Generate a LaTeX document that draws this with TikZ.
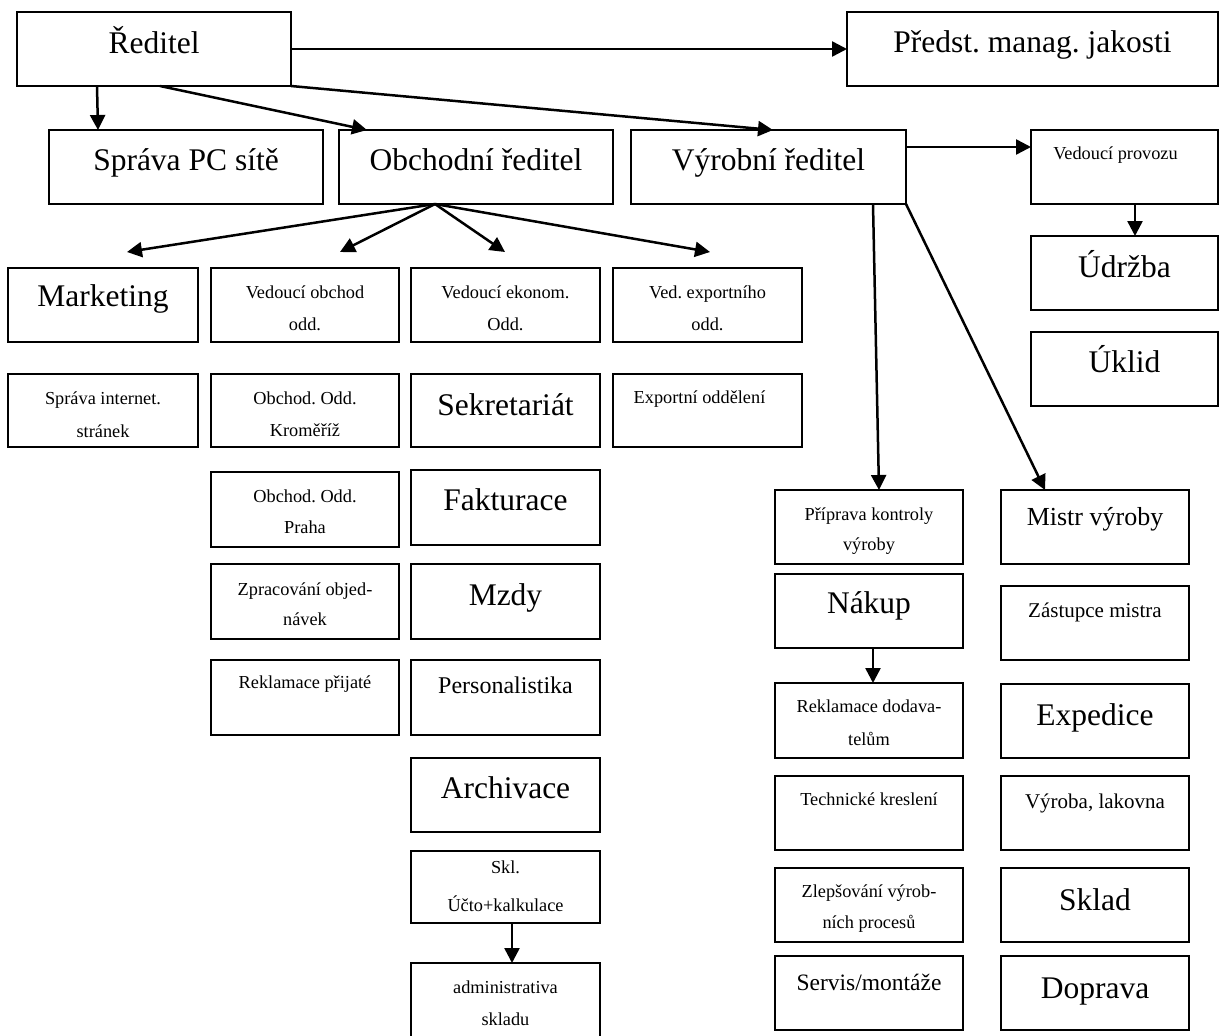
\documentclass[tikz,border=0pt]{standalone}
\usepackage{fontspec}
\setmainfont{Liberation Serif}
\usetikzlibrary{arrows.meta,fit}

\tikzset{
  orgbox/.style={draw, line width=2pt, inner sep=0pt, outer sep=0pt, rectangle},
  big/.style={font=\fontsize{31.5}{36}\selectfont, inner sep=0pt},
  small/.style={font=\fontsize{18.3}{22}\selectfont, inner sep=0pt},
  arr/.style={line width=2.5pt, -{Triangle[length=15pt,width=15pt]}},
}

% box with one line of text: name, corner, corner, text style, baseline offset, text
\newcommand\boxone[6]{%
  \node[orgbox, fit={#2 #3}] (#1) {};
  \node[#4, anchor=base] (#1-a) at ([yshift=-#5pt]#1.north) {#6};}

% box with two lines of small text: name, corner, corner, offset 1, offset 2, line 1, line 2
\newcommand\boxtwo[7]{%
  \node[orgbox, fit={#2 #3}] (#1) {};
  \node[small, anchor=base] (#1-a) at ([yshift=-#4pt]#1.north) {#6};
  \node[small, anchor=base] (#1-b) at ([yshift=-#5pt]#1.north) {#7};}

\begin{document}
\frenchspacing
\begin{tikzpicture}[x=1pt, y=-1pt]
\useasboundingbox (0,0) rectangle (1219,1036);

% top management
\boxone{red}{(17,12)}{(291,86)}{big}{41}{Ředitel}
\boxone{qm}{(847,12)}{(1218,86)}{big}{40}{Předst. manag. jakosti}

\boxone{pc}{(49,130)}{(323,204)}{big}{40}{Správa PC sítě}
\boxone{obch}{(339,130)}{(613,204)}{big}{40}{Obchodní ředitel}
\boxone{vyr}{(631,130)}{(906,204)}{big}{40}{Výrobní ředitel}

\node[orgbox, fit={(1031,130) (1218,204)}] (vprov) {};
\node[small, anchor=base] (vprov-a) at ([xshift=-9pt,yshift=-29pt]vprov.north) {Vedoucí provozu};
\boxone{udr}{(1031,236)}{(1218,310)}{big}{41}{Údržba}
\boxone{ukl}{(1031,332)}{(1218,406)}{big}{40}{Úklid}

% commercial branch
\boxone{mkt}{(8,268)}{(198,342)}{big}{38}{Marketing}
\boxtwo{vob}{(211,268)}{(399,342)}{30}{62}{Vedoucí obchod}{odd.}
\boxtwo{vek}{(411,268)}{(600,342)}{30}{62}{Vedoucí ekonom.}{Odd.}
\boxtwo{vexp}{(613,268)}{(802,342)}{30}{62}{Ved. exportního}{odd.}

\boxtwo{sint}{(8,374)}{(198,447)}{30}{63}{Správa internet.}{stránek}
\boxtwo{kro}{(211,374)}{(399,447)}{30}{62}{Obchod. Odd.}{Kroměříž}
\boxone{sekr}{(411,374)}{(600,447)}{big}{41}{Sekretariát}
\node[orgbox, fit={(613,374) (802,447)}] (exo) {};
\node[small, anchor=base] (exo-a) at ([xshift=-8pt,yshift=-29pt]exo.north) {Exportní oddělení};

\boxtwo{praha}{(211,472)}{(399,547)}{30}{61}{Obchod. Odd.}{Praha}
\boxtwo{zprac}{(211,564)}{(399,639)}{31}{61}{Zpracování objed-}{návek}
\boxone{rekp}{(211,660)}{(399,735)}{small}{28}{Reklamace přijaté}

\boxone{fakt}{(411,470)}{(600,545)}{big}{40}{Fakturace}
\boxone{mzdy}{(411,564)}{(600,639)}{big}{41}{Mzdy}
\boxone{pers}{(411,660)}{(600,735)}{font=\fontsize{24}{28}\selectfont}{33}{Personalistika}
\boxone{arch}{(411,758)}{(600,832)}{big}{40}{Archivace}
\boxtwo{skl}{(411,851)}{(600,923)}{22}{60}{Skl.}{Účto+kalkulace}
\boxtwo{adm}{(411,963)}{(600,1045)}{30}{62}{administrativa}{skladu}

% production branch
\boxtwo{prip}{(775,490)}{(963,564)}{30}{60}{Příprava kontroly}{výroby}
\boxone{nak}{(775,574)}{(963,648)}{big}{39}{Nákup}
\boxtwo{rdod}{(775,683)}{(963,758)}{29}{62}{Reklamace dodava-}{telům}
\boxone{tech}{(775,776)}{(963,850)}{small}{29}{Technické kreslení}
\boxtwo{zlep}{(775,868)}{(963,942)}{29}{60}{Zlepšování výrob-}{ních procesů}
\boxone{serv}{(775,956)}{(963,1030)}{font=\fontsize{23.5}{28}\selectfont}{34}{Servis/montáže}

\boxone{mistr}{(1001,490)}{(1189,564)}{font=\fontsize{26}{30}\selectfont}{35}{Mistr výroby}
\boxone{zast}{(1001,586)}{(1189,660)}{font=\fontsize{21}{25}\selectfont}{31}{Zástupce mistra}
\boxone{exped}{(1001,684)}{(1189,758)}{big}{41}{Expedice}
\boxone{vyrl}{(1001,776)}{(1189,850)}{font=\fontsize{21}{25}\selectfont}{32}{Výroba, lakovna}
\boxone{sklad}{(1001,868)}{(1189,942)}{big}{42}{Sklad}
\boxone{dopr}{(1001,956)}{(1189,1030)}{big}{42}{Doprava}

% free ends of the commercial director's arrows
\coordinate (tmkt) at (127,252);
\coordinate (tvob) at (340,252);
\coordinate (tvek) at (505,252);
\coordinate (tvexp) at (710,252);
\coordinate (obfan) at ([xshift=96pt]obch.south west);

% connectors
\draw[arr] (red.east) -- (qm.west);
\draw[arr] ([xshift=80pt]red.south west) -- ([xshift=49pt]pc.north west);
\draw[arr] ([xshift=143pt]red.south west) -- ([xshift=28pt]obch.north west);
\draw[arr] (red.south east) -- ([xshift=142pt]vyr.north west);

\draw[arr] (obfan) -- (tmkt);
\draw[arr] (obfan) -- (tvob);
\draw[arr] (obfan) -- (tvek);
\draw[arr] (obfan) -- (tvexp);

\draw[arr] ([yshift=-17pt]vyr.north east) -- ([yshift=-17pt]vprov.north west);
\draw[arr] ([xshift=104pt]vprov.south west) -- ([xshift=104pt]udr.north west);
\draw[arr] ([xshift=242pt]vyr.south west) -- ([xshift=104pt]prip.north west);
\draw[arr] (vyr.south east) -- ([xshift=44pt]mistr.north west);
\draw[arr] ([xshift=98pt]nak.south west) -- ([xshift=98pt]rdod.north west);
\draw[arr] ([xshift=101pt]skl.south west) -- ([xshift=101pt]adm.north west);
\end{tikzpicture}
\end{document}
